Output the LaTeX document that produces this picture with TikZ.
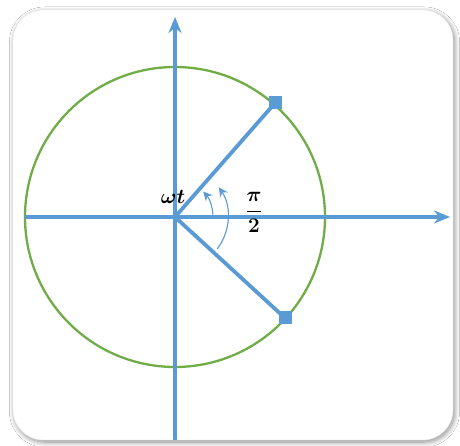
\documentclass[tikz,border=0pt]{standalone}
\usetikzlibrary{arrows.meta,shadows.blur}
\definecolor{vblue}{RGB}{91,155,213}
\definecolor{cgreen}{RGB}{112,173,71}
\begin{document}
\begin{tikzpicture}[x=1pt,y=1pt,
  axis/.style={vblue,line width=3.4pt,-{Stealth[length=16pt,width=13pt]}},
  vec/.style={vblue,line width=3.8pt},
  marker/.style={fill=vblue,minimum size=13pt,inner sep=0pt},
  anglearc/.style={vblue,line width=1.1pt,-{Stealth[length=9pt,width=9pt]}},
  lbl/.style={inner sep=0pt,font=\fontsize{21}{24}\selectfont\boldmath}]
\useasboundingbox (-175,-229) rectangle (285,217);
\fill[white] (-175,-229) rectangle (285,217);
\node[draw=gray!20,fill=white,rounded corners=30pt,minimum width=440pt,minimum height=430pt,
  blur shadow={shadow xshift=1.5pt,shadow yshift=-2pt,shadow blur steps=12,shadow blur radius=5pt,shadow opacity=45}] (frame) at (58,-8) {};
\coordinate (O) at (0,0);
\draw[cgreen,line width=2.3pt] (O) circle[radius=150];
\coordinate (ybot) at (0,-223);
\coordinate (ytop) at (0,200);
\coordinate (xleft) at (-150,0);
\coordinate (xright) at (275,0);
\draw[axis] (ybot) -- (ytop);
\draw[axis] (xleft) -- (xright);
\node[marker] (P) at (100,114) {};
\node[marker] (Q) at (110,-101) {};
\draw[vec] (O) -- (P.center);
\draw[vec] (O) -- (Q.center);
\coordinate (a1) at (38,0);
\coordinate (a2) at (42.3,-31.9);
\draw[anglearc] (a1) arc[start angle=0,end angle=42,radius=38];
\draw[anglearc] (a2) arc[start angle=-37,end angle=34,radius=53];
\node[lbl] (wt) at (-2,20) {$\omega t$};
\node[lbl] (pi2) at (79,5) {$\displaystyle\frac{\pi}{2}$};
\end{tikzpicture}
\end{document}
